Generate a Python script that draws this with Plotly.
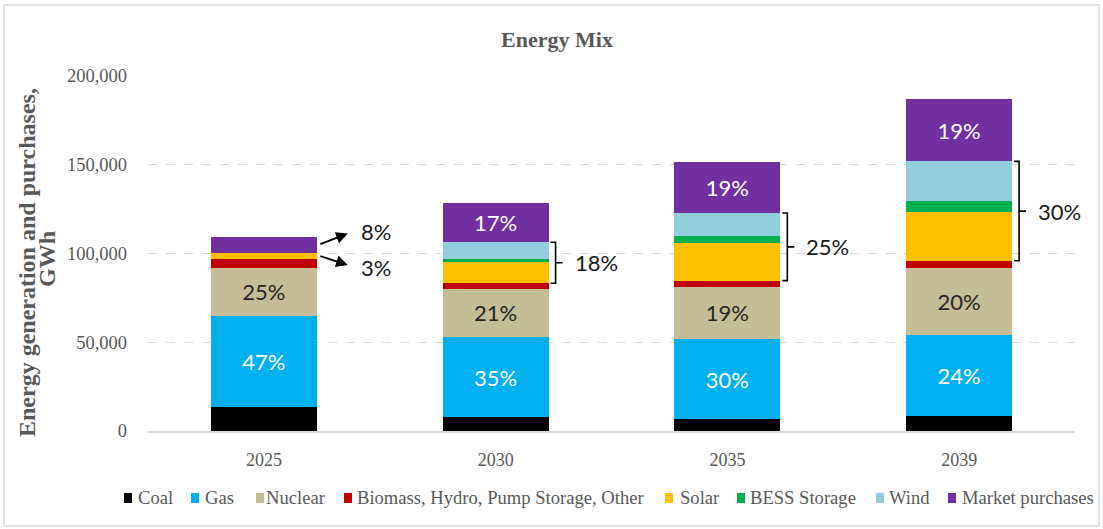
import plotly.graph_objects as go

# Energy generation and purchases by source, GWh
years = ["2025", "2030", "2035", "2039"]
coal = [13700, 7700, 6600, 8600]
gas = [51300, 45400, 45200, 45400]
nuclear = [27000, 26900, 29500, 38000]
biomass = [5100, 3200, 3400, 3900]
solar = [3400, 12000, 21200, 27600]
bess = [0, 1900, 3800, 5900]
wind = [0, 9200, 13100, 22500]
market = [8900, 22300, 28900, 35000]

source_names = ["Coal", "Gas", "Nuclear", "Biomass, Hydro, Pump Storage, Other",
                "Solar", "BESS Storage", "Wind", "Market purchases"]
source_colors = ["#000000", "#00B0F0", "#C4BD97", "#C00000",
                 "#FFC000", "#00B050", "#92CDDC", "#7030A0"]
series = [coal, gas, nuclear, biomass, solar, bess, wind, market]

y_ticks = [0, 50000, 100000, 150000, 200000]

# plot-area geometry in pixels (used for paper-positioned decorations)
W, H = 1103, 529
PL, PR, PT, PB = 148, 1075, 76, 431


def px_x(px):
    return (px - PL) / (PR - PL)


def px_y(py):
    return (PB - py) / (PB - PT)


x = list(range(len(years)))
totals = [sum(v) for v in zip(*series)]


def pct(value, i):
    return f"{round(100 * value / totals[i])}%"


SERIF = "Liberation Serif"
SANS = "Lato"
GREY = "#595959"
LABEL_SIZE = 22

# which segments carry an inside percentage label, and in what colour
inside_labels = {
    "Gas": ([True, True, True, True], "white"),
    "Nuclear": ([True, True, True, True], "#262626"),
    "Market purchases": ([False, True, True, True], "white"),
}

fig = go.Figure()
for name, color, vals in zip(source_names, source_colors, series):
    if name in inside_labels:
        flags, tcolor = inside_labels[name]
        text = [pct(v, i) if f else "" for i, (v, f) in enumerate(zip(vals, flags))]
        fig.add_trace(go.Bar(
            x=x, y=vals, name=name, marker=dict(color=color, line=dict(width=0)),
            text=text, textposition="inside", insidetextanchor="middle",
            textangle=0, constraintext="none",
            textfont=dict(family=SANS, size=LABEL_SIZE, color=tcolor),
        ))
    else:
        fig.add_trace(go.Bar(
            x=x, y=vals, name=name, marker=dict(color=color, line=dict(width=0)),
            textposition="none",
        ))

BAR_W = 0.457
HW = BAR_W / 2
UNIT = (PR - PL) / 4.0  # pixels per category

shapes = []
annotations = []

# renewable brackets (solar + BESS + wind) for the later years
for i in range(1, len(years)):
    ybot = coal[i] + gas[i] + nuclear[i] + biomass[i]
    renew = solar[i] + bess[i] + wind[i]
    ytop = ybot + renew
    ymid = (ybot + ytop) / 2
    xv = x[i] + HW + 7 / UNIT
    xl = xv - 5 / UNIT
    xt = xv + 7 / UNIT
    shapes.append(dict(
        type="path", xref="x", yref="y",
        path=(f"M{xl},{ytop} L{xv},{ytop} L{xv},{ybot} L{xl},{ybot} "
              f"M{xv},{ymid} L{xt},{ymid}"),
        line=dict(color="#000000", width=1.6),
    ))
    annotations.append(dict(
        x=xv + 17 / UNIT, y=ymid, xref="x", yref="y", text=pct(renew, i),
        showarrow=False, xanchor="left", yanchor="middle",
        font=dict(family=SANS, size=LABEL_SIZE, color="#1a1a1a"),
    ))

# call-out arrows for the thin 2025 segments
base25 = coal[0] + gas[0] + nuclear[0] + biomass[0]
solar_mid = base25 + solar[0] / 2
market_mid = base25 + solar[0] + bess[0] + wind[0] + market[0] / 2
tail_x = x[0] + HW + 2 / UNIT
head_x = tail_x + 29 / UNIT
text_x = head_x + 11 / UNIT
for mid, dy, tdy, val in [(market_mid, 6300, 900, market[0]),
                          (solar_mid, -5300, -1500, solar[0])]:
    annotations.append(dict(
        x=head_x, y=mid + dy, ax=tail_x, ay=mid, xref="x", yref="y",
        axref="x", ayref="y", text="", showarrow=True,
        arrowhead=2, arrowsize=1.3, arrowwidth=1.8, arrowcolor="#000000",
        standoff=0, startstandoff=0,
    ))
    annotations.append(dict(
        x=text_x, y=mid + dy + tdy, xref="x", yref="y", text=pct(val, 0),
        showarrow=False, xanchor="left", yanchor="middle",
        font=dict(family=SANS, size=LABEL_SIZE, color="#1a1a1a"),
    ))

# y-axis title, two lines
annotations.append(dict(
    x=px_x(27), y=px_y(263), xref="paper", yref="paper",
    text="<b>Energy generation and purchases,</b>", textangle=-90,
    showarrow=False, xanchor="center", yanchor="middle",
    font=dict(family=SERIF, size=24, color=GREY),
))
annotations.append(dict(
    x=px_x(47), y=px_y(259), xref="paper", yref="paper",
    text="<b>GWh</b>", textangle=-90,
    showarrow=False, xanchor="center", yanchor="middle",
    font=dict(family=SERIF, size=24, color=GREY),
))

# legend drawn along the bottom
legend_marker_x = [124, 191, 256, 344, 665, 737, 876, 948]
legend_text_x = [136, 203, 264, 355, 678, 748, 887, 960]
for name, color, mx, tx in zip(source_names, source_colors, legend_marker_x, legend_text_x):
    shapes.append(dict(
        type="rect", xref="paper", yref="paper",
        x0=px_x(mx), x1=px_x(mx + 8), y0=px_y(503), y1=px_y(493),
        fillcolor=color, line=dict(width=0),
    ))
    annotations.append(dict(
        x=px_x(tx), y=px_y(497), xref="paper", yref="paper", text=name,
        showarrow=False, xanchor="left", yanchor="middle",
        font=dict(family=SERIF, size=18.6, color=GREY),
    ))

# outer chart border
shapes.append(dict(
    type="rect", xref="paper", yref="paper",
    x0=px_x(4), x1=px_x(1099), y0=px_y(526), y1=px_y(5),
    line=dict(color="#d9d9d9", width=1.5), fillcolor="rgba(0,0,0,0)",
    layer="below",
))

fig.update_layout(
    width=W, height=H,
    margin=dict(l=PL, r=W - PR, t=PT, b=H - PB, pad=0),
    barmode="stack", bargap=1 - BAR_W,
    plot_bgcolor="white", paper_bgcolor="white",
    showlegend=False,
    title=dict(text="<b>Energy Mix</b>", x=557 / W, xanchor="center",
               y=1 - 39 / H, yanchor="middle", xref="container", yref="container",
               font=dict(family=SERIF, size=22, color=GREY)),
    xaxis=dict(
        range=[-0.5, 3.5], tickmode="array", tickvals=x, ticktext=years,
        showgrid=False, zeroline=False, showline=True,
        linecolor="#d9d9d9", linewidth=2, ticks="",
        tickfont=dict(family=SERIF, size=18, color=GREY),
        ticklabelstandoff=11,
    ),
    yaxis=dict(
        range=[0, 200000], tickmode="array", tickvals=y_ticks, tickformat=",d",
        showgrid=True, gridcolor="#d9d9d9", griddash="dash", gridwidth=1,
        zeroline=False, showline=False, ticks="",
        tickfont=dict(family=SERIF, size=18.5, color=GREY),
        ticklabelstandoff=20,
    ),
    shapes=shapes, annotations=annotations,
    uniformtext=dict(mode=False),
)

fig.write_html("out.html")
